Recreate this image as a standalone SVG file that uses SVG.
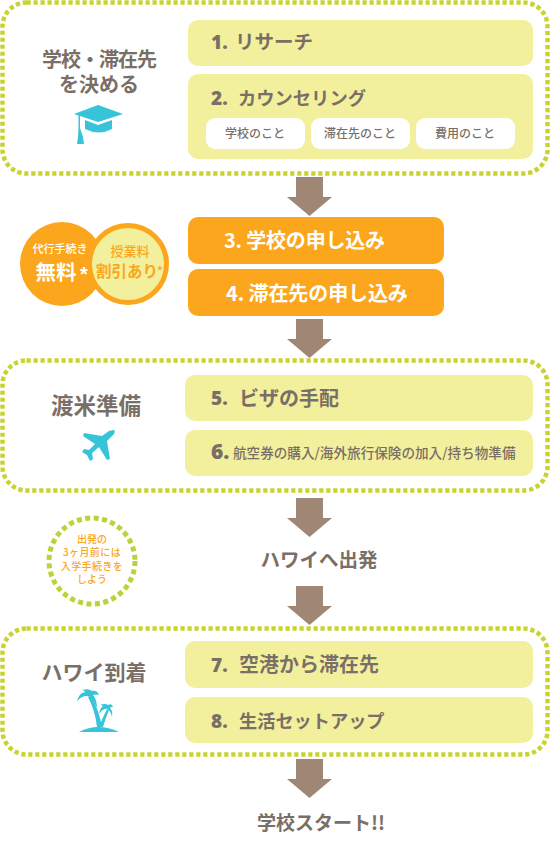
<svg xmlns="http://www.w3.org/2000/svg" width="550" height="841" viewBox="0 0 550 841">
<style>
text{font-family:"Noto Sans CJK JP","Noto Sans",sans-serif;font-weight:700;fill:#7a6f66}
.dot{fill:none;stroke:#c8d32f;stroke-width:4.5;stroke-dasharray:4.2 2.8}
.y{fill:#f2f09c}
.o{fill:#fba61c}
.w{fill:#fff}
.ic{fill:#37c4d8}
.a{fill:#9f8675}
.h{text-anchor:middle}
.s{font-size:20px}
.n{font-size:19px;font-family:"Open Sans","Noto Sans",sans-serif;font-weight:800}
.p{font-size:12px;text-anchor:middle;font-weight:500}
text.wt{fill:#fff}
text.ot{fill:#fba61c}
.note{font-size:10px;text-anchor:middle;font-weight:500}
</style>
<defs><path id="arr" d="M296 0H323V20H332L309.500 39L287 20H296Z"/></defs>
<g id="connectors">
<use href="#arr" class="a" y="177"/>
<use href="#arr" class="a" y="319"/>
<use href="#arr" class="a" y="498"/>
<use href="#arr" class="a" y="586"/>
<use href="#arr" class="a" y="759"/>
</g>
<g id="group-school">
<rect class="dot" x="2.500" y="2.500" width="545" height="171" rx="24"/>
<text class="h" x="99" y="67" font-size="20" letter-spacing="-1">学校・滞在先</text>
<text class="h" x="99" y="92" font-size="20">を決める</text>
<path class="ic" d="M98 105L123 114L98 122L80 116V128L83 137L84 144H77L78 137L78.500 128V115.500L74 114Z"/>
<path class="ic" d="M85 120L98 125L112 120V129Q99 136 85 129Z"/>
</g>
<g id="step-1"><rect class="y" x="188" y="20" width="345" height="46" rx="10"/>
<text class="n" x="211" y="49">1.</text><text class="s" x="235" y="49" style="font-size:19.500px">リサーチ</text></g>
<g id="step-2"><rect class="y" x="188" y="74" width="345" height="85" rx="10"/>
<text class="n" x="211" y="105">2.</text><text class="s" x="238" y="105" style="font-size:18.300px">カウンセリング</text>
<rect class="w" x="206" y="118" width="99" height="31" rx="9"/>
<rect class="w" x="311" y="118" width="99" height="31" rx="9"/>
<rect class="w" x="416" y="118" width="99" height="31" rx="9"/>
<text class="p" x="255" y="138">学校のこと</text>
<text class="p" x="360" y="138">滞在先のこと</text>
<text class="p" x="465" y="138">費用のこと</text></g>
<g id="badges">
<circle class="o" cx="62" cy="264" r="42"/>
<circle class="y" cx="128" cy="264" r="38.500" stroke="#fba61c" stroke-width="5"/>
<text class="wt" x="60" y="253" font-size="11" text-anchor="middle" style="font-weight:500">代行手続き</text>
<text class="wt" x="56" y="280" font-size="20.500" text-anchor="middle">無料</text>
<text class="wt" x="84" y="281" font-size="20" text-anchor="middle" style="font-family:'Liberation Sans'">*</text>
<text class="ot" x="130" y="256" font-size="13" text-anchor="middle" style="font-weight:500">授業料</text>
<text class="ot" x="127" y="277" font-size="15.500" text-anchor="middle">割引あり</text>
<text class="ot" x="160" y="274" font-size="11" text-anchor="middle" style="font-family:'Liberation Sans'">*</text>
</g>
<g id="step-3"><rect class="o" x="188" y="217" width="256" height="47" rx="10"/>
<text class="wt" x="224" y="248" font-size="20" letter-spacing="-.2">3. 学校の申し込み</text></g>
<g id="step-4"><rect class="o" x="188" y="269" width="256" height="47" rx="10"/>
<text class="wt" x="226" y="301" font-size="20" letter-spacing="-.1">4. 滞在先の申し込み</text></g>
<g id="group-prep">
<rect class="dot" x="2.500" y="360.500" width="545" height="130" rx="24"/>
<text class="h" x="96" y="414" font-size="22.500">渡米準備</text>
<path class="ic" d="M113 430Q116 430 114 434L107 441L110 459L107 460L99 447L92 453L93 459L90 461L87 455L82 452L84 449L89 450L95 444L83 436L84 433L102 436L109 431Z"/>
</g>
<g id="step-5"><rect class="y" x="185" y="375" width="348" height="46" rx="10"/>
<text class="n" x="211" y="405">5.</text><text class="s" x="239" y="406">ビザの手配</text></g>
<g id="step-6"><rect class="y" x="185" y="430" width="348" height="46" rx="10"/>
<text class="n" x="211" y="459" style="font-size:21px">6.</text><text x="233" y="458" font-size="13.600" style="font-weight:500">航空券の購入/海外旅行保険の加入/持ち物準備</text></g>
<g id="note">
<circle cx="92" cy="561" r="43" fill="none" stroke="#bdd23a" stroke-width="5" stroke-dasharray="5 3.500"/>
<text class="ot note" x="92" y="543">出発の</text>
<text class="ot note" x="92" y="556" letter-spacing=".4">3ヶ月前には</text>
<text class="ot note" x="92" y="570" letter-spacing=".4">入学手続きを</text>
<text class="ot note" x="92" y="583">しよう</text>
</g>
<g id="depart"><text x="319" y="567" font-size="19.500" text-anchor="middle">ハワイへ出発</text></g>
<g id="group-arrive">
<rect class="dot" x="2.500" y="628.500" width="545" height="126" rx="24"/>
<text class="h" x="94" y="680" font-size="21">ハワイ到着</text>
<path class="ic" d="M79 732Q98 722 119 732Z"/>
<path class="ic" d="M97 727Q95 710 88 697L91 696Q99 710 102 727Z"/>
<path class="ic" d="M99 727Q103 717 107 709L109 710Q105 720 103 727Z"/>
<path class="ic" d="M90 697Q84 694 77 701Q79 693 85 692Q84 690 82 690Q89 688 92 691Q97 690 99 695Q96 694 93 695Q97 700 97 708Q94 701 90 697Z"/>
<path class="ic" d="M108 709Q103 708 99 714Q100 708 103 706Q102 705 100 705Q105 703 108 705Q112 703 113 707Q110 707 110 708Q113 711 112 717Q111 712 108 709Z"/>
</g>
<g id="step-7"><rect class="y" x="185" y="641" width="348" height="47" rx="10"/>
<text class="n" x="211" y="672">7.</text><text class="s" x="239" y="672">空港から滞在先</text></g>
<g id="step-8"><rect class="y" x="185" y="697" width="348" height="46" rx="10"/>
<text class="n" x="211" y="728">8.</text><text class="s" x="239" y="728" style="font-size:18.200px">生活セットアップ</text></g>
<g id="start"><text x="321" y="830" font-size="19" text-anchor="middle">学校スタート!!</text></g>
</svg>
